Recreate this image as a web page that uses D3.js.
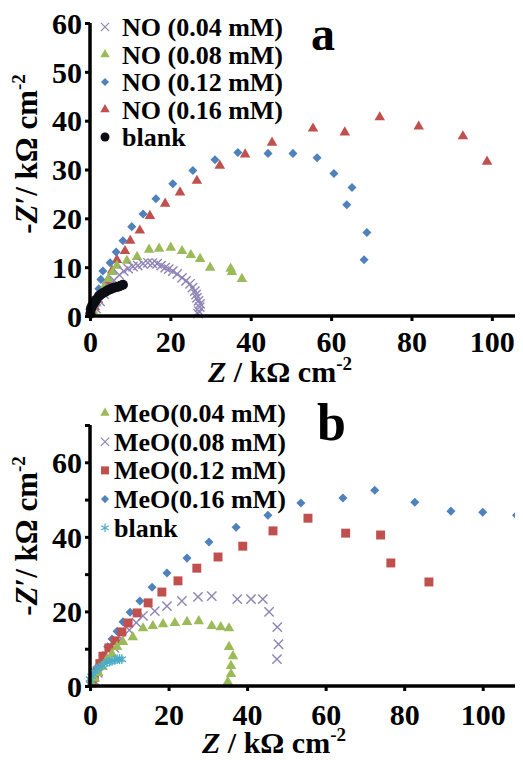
<!DOCTYPE html>
<meta charset="utf-8">
<script src="https://cdn.jsdelivr.net/npm/d3@7"></script>
<div id="chart"></div>
<script>

// ---- panel a : NO ----
const labelsA = ["NO (0.04 mM)", "NO (0.08 mM)", "NO (0.12 mM)", "NO (0.16 mM)", "blank"]
const no004 = [[1.5,1.5],[2.5,3],[3.5,4.5],[4.8,6],[6,7.3],[7.3,8.4],[8.4,9.2],[9.5,9.7],[10.7,10.1],[11.9,10.3],
  [13.2,10.7],[14.4,10.9],[15.5,10.8],[16.7,10.7],[17.7,10.3],[18.7,9.9],[19.6,9.6],[20.6,9.2],[21.7,8.6],[22.9,7.8],
  [23.9,7.2],[24.9,6.6],[25.5,5.8],[26.1,5.1],[26.4,4.4],[26.6,3.7],[27.0,3.1],[27.4,2.5],[27.3,1.8],[27.1,1.0],[26.9,0.5]]
const no008 = [[0.8,1],[1.6,2.6],[2.6,4.3],[3.6,6],[4.6,7.6],[5.6,9],[6.7,10.3],[9.2,11.3],[11.7,12.1],[14.7,13.6],
  [17.2,13.8],[20.1,14.0],[22.9,13.3],[25.1,12.5],[27.4,11.7],[29.9,9.9],[35.0,9.7],[35.3,9.0],[37.8,7.6]]
const no012 = [[0.4,0.6],[0.9,2],[1.5,3.6],[2.2,5.6],[2.7,7.5],[3.2,9.2],[5.0,10.9],[6.5,13.1],[8.2,15.4],[10.4,18.3],
  [13.2,20.9],[16.4,24.0],[20.6,27.1],[25.6,29.8],[31.1,32.0],[36.8,33.5],[44.3,33.3],[50.5,33.3],[56.5,32.4],
  [60.7,29.2],[65.2,26.3],[63.9,22.8],[68.9,17.1],[68.2,11.5]]
const no016 = [[0.5,0.5],[1.2,1.8],[2,3.3],[3,5],[4.2,7],[5.5,9.3],[6.7,11.5],[8.7,13.3],[10.0,15.4],[12.4,17.5],
  [14.9,20.5],[18.7,23.0],[22.4,25.3],[26.6,27.7],[32.3,30.8],[38.6,33.1],[45.3,35.5],[55.5,38.4],[63.4,37.6],
  [72.1,40.7],[81.8,38.8],[92.8,36.8],[98.8,31.6]]
const blankA = [[0.1,0.5],[0.2,1.4],[0.4,1.9],[0.7,2.3],[1.1,2.8],[1.5,3.3],[2.2,4.1],[2.7,4.4],[3.2,4.7],[3.9,5.0],
  [4.5,5.3],[5.1,5.5],[5.7,5.7],[6.4,5.9],[7.0,6.0],[7.6,6.2],[8.2,6.4]]

// ---- panel b : MeO ----
const labelsB = ["MeO(0.04 mM)", "MeO(0.08 mM)", "MeO(0.12 mM)", "MeO(0.16 mM)", "blank"]
const meo004 = [[0.5,0.6],[1.2,2],[2.1,3.5],[3.1,5.2],[4.2,6.9],[5.6,8.6],[6.9,10.5],[8.4,11.8],[10.9,13.1],[13.5,15.5],
  [16.0,16.1],[18.6,16.6],[21.6,16.9],[24.7,17.2],[27.7,17.4],[31.0,16.1],[33.3,15.8],[35.4,15.5],[35.4,10.5],
  [36.4,8.0],[35.9,5.4],[35.9,3.2],[35.1,1.1]]
const meo008 = [[1,1.5],[2,3.5],[3.2,5.6],[4.6,7.8],[6.2,10.2],[8,12.7],[10,15],[11.8,17],[13.5,18.8],[16.5,20.1],
  [19.6,21.4],[23.4,22.8],[27.5,23.9],[31.0,24.1],[37.5,23.3],[41.0,23.3],[44.0,23.3],[45.6,19.9],[47.7,15.8],
  [48.0,11.2],[47.6,7.2]]
const meo012 = [[0.5,0.8],[1.1,2.3],[1.8,4],[2.5,6],[3.3,8.0],[4.8,10.2],[6.4,12.1],[8.1,14.5],[9.7,16.9],[12.0,19.6],
  [14.8,22.3],[18.3,25.2],[22.4,28.2],[27.2,31.6],[32.6,34.6],[38.9,37.5],[46.6,41.6],[55.5,45.0],[65.1,41.0],
  [74.0,40.5],[76.6,33.0],[86.3,27.9]]
const meo016 = [[0.5,1],[1.2,3],[2.2,5.5],[3.3,8.2],[4.5,10.5],[5.6,12.6],[6.9,14.7],[8.4,17.2],[10.2,19.8],[12.7,22.8],
  [15.8,26.5],[19.6,30.3],[24.7,34.3],[30.3,38.6],[37.2,42.6],[45.3,45.8],[53.7,49.1],[64.4,50.4],[72.5,52.5],
  [82.7,49.3],[91.9,46.9],[100.0,46.6],[108.6,45.8]]
const blankB = [[0,0.5],[0,1.9],[0.4,2.6],[0.8,3.2],[1.3,4.0],[1.8,4.6],[2.4,5.0],[3.1,5.4],[3.7,6.0],[4.3,6.4],
  [5.0,6.5],[5.6,6.7],[6.3,7.0],[6.9,7.2],[7.5,7.2],[8.1,7.2]]

const xTicks = [0, 20, 40, 60, 80, 100]
const yTicksA = [0, 10, 20, 30, 40, 50, 60]
const yTicksB = [0, 10, 20, 30, 40, 50, 60, 70]
const yLabelsB = [0, 20, 40, 60]

// marker styles
const purple = "#8f84b6", green = "#9bbb59", blue = "#4f81bd", red = "#c0504d", cyan = "#4bacc6"
const mk = {
  x: { type: d3.symbolX, size: 58, fill: "none", stroke: purple },
  tri: (c) => ({ type: d3.symbolTriangle, size: 48, fill: c, stroke: "none" }),
  dia: { type: d3.symbolDiamond2, size: 52, fill: blue, stroke: "none" },
  sq: { type: d3.symbolSquare, size: 80, fill: red, stroke: "none" },
  dot: { type: d3.symbolCircle, size: 80, fill: "#0d0d14", stroke: "none" },
  ast: { type: d3.symbolAsterisk, size: 64, fill: "none", stroke: cyan }
}

// one family name only
const serif = "Liberation Serif"

// same svg setup as the run that came out in serif; body keeps its 8px margin,
// so the drawing is pulled back by 8px inside the svg
const svg = d3.select("#chart")
  .append("svg")
  .attr("width", 523)
  .attr("height", 760)
  .attr("font-family", serif)
  .attr("font-weight", "bold")
  .append("g")
  .attr("transform", "translate(-8,-8)")

function drawPanel(p) {
  const x = d3.scaleLinear().domain(p.xDomain).range(p.xRange)
  const y = d3.scaleLinear().domain(p.yDomain).range(p.yRange)
  const g = svg.append("g")

  // points (drawn back to front)
  p.series.forEach(s => {
    g.append("g").selectAll("path")
      .data(s.data)
      .join("path")
      .attr("transform", d => `translate(${x(d[0])},${y(d[1])})`)
      .attr("d", d3.symbol().type(s.m.type).size(s.m.size))
      .attr("fill", s.m.fill)
      .attr("stroke", s.m.stroke)
      .attr("stroke-width", 1.4)
  })

  // axes
  const yAxis = g.append("g")
    .attr("transform", `translate(${p.xRange[0]},0)`)
    .call(d3.axisLeft(y).tickValues(p.yTicks).tickSize(5).tickPadding(3)
      .tickFormat(d => p.yLabels.includes(d) ? d : ""))
  const xAxis = g.append("g")
    .attr("transform", `translate(0,${p.yRange[0]})`)
    .call(d3.axisBottom(x).tickValues(xTicks).tickSize(5))
  ;[xAxis, yAxis].forEach(a => {
    a.attr("font-family", serif).attr("font-size", 30).attr("font-weight", "bold")
    a.select(".domain").remove()
    a.selectAll(".tick line").attr("stroke", "#000").attr("stroke-width", 3)
    a.selectAll("text").attr("fill", "#000")
  })
  yAxis.selectAll("text").attr("dy", "0.34em")
  xAxis.selectAll("text").attr("dy", null).attr("y", p.xLabelOffset)

  g.append("line")
    .attr("x1", p.xRange[0]).attr("x2", p.xRange[0])
    .attr("y1", p.yRange[0] + 1.5).attr("y2", p.yRange[1])
    .attr("stroke", "#000").attr("stroke-width", 3.5)
  g.append("line")
    .attr("x1", p.xRange[0]).attr("x2", p.xRange[1])
    .attr("y1", p.yRange[0]).attr("y2", p.yRange[0])
    .attr("stroke", "#000").attr("stroke-width", 3.5)

  // axis titles
  const xt = g.append("text")
    .attr("x", p.xTitle[0]).attr("y", p.xTitle[1])
    .attr("font-size", 30)
  xt.append("tspan").attr("font-style", "italic").text("Z")
  xt.append("tspan").text(" / kΩ cm")
  xt.append("tspan").attr("dy", -12).attr("font-size", 19).text("-2")

  const yt = g.append("text")
    .attr("transform", `translate(${p.yTitle[0]},${p.yTitle[1]}) rotate(-90)`)
    .attr("text-anchor", "middle")
    .attr("font-size", 31)
  yt.append("tspan").text("-")
  yt.append("tspan").attr("font-style", "italic").text("Z")
  yt.append("tspan").text("′/ kΩ cm")
  yt.append("tspan").attr("dy", -12).attr("font-size", 19).text("-2")

  // legend
  const lg = g.append("g")
  p.legend.forEach((s, i) => {
    const cy = p.legendY + i * p.legendStep
    lg.append("path")
      .attr("transform", `translate(${p.legendX},${cy})`)
      .attr("d", d3.symbol().type(s.m.type).size(s.m.size * 0.8))
      .attr("fill", s.m.fill)
      .attr("stroke", s.m.stroke)
      .attr("stroke-width", 1.2)
    lg.append("text")
      .attr("x", p.legendTextX).attr("y", cy + 9)
      .attr("font-size", p.legendFont)
      .text(p.labels[i])
  })

  g.append("text")
    .attr("x", p.letter[0]).attr("y", p.letter[1])
    .attr("font-size", p.letter[3])
    .text(p.letter[2])
}

const sA = {
  no004: { data: no004, m: mk.x }, no008: { data: no008, m: mk.tri(green) },
  no012: { data: no012, m: mk.dia }, no016: { data: no016, m: mk.tri(red) },
  blank: { data: blankA, m: mk.dot }
}
drawPanel({
  xDomain: [0, 108], xRange: [90, 524],
  yDomain: [0, 60], yRange: [316, 23],
  yTicks: yTicksA, yLabels: yTicksA,
  series: [sA.no016, sA.no012, sA.no008, sA.no004, sA.blank],
  legend: [sA.no004, sA.no008, sA.no012, sA.no016, sA.blank],
  labels: labelsA,
  legendX: 105, legendTextX: 122, legendY: 27, legendStep: 27.5, legendFont: 26,
  xLabelOffset: 36, xTitle: [208, 382], yTitle: [37, 154],
  letter: [311, 50, "a", 48]
})

const sB = {
  meo004: { data: meo004, m: mk.tri(green) }, meo008: { data: meo008, m: mk.x },
  meo012: { data: meo012, m: mk.sq }, meo016: { data: meo016, m: mk.dia },
  blank: { data: blankB, m: mk.ast }
}
drawPanel({
  xDomain: [0, 110], xRange: [90, 522],
  yDomain: [0, 70], yRange: [686, 425],
  yTicks: yTicksB, yLabels: yLabelsB,
  series: [sB.meo008, sB.meo016, sB.meo012, sB.meo004, sB.blank],
  legend: [sB.meo004, sB.meo008, sB.meo012, sB.meo016, sB.blank],
  labels: labelsB,
  legendX: 105, legendTextX: 114, legendY: 413, legendStep: 28.7, legendFont: 26,
  xLabelOffset: 39, xTitle: [202, 753], yTitle: [37, 536],
  letter: [317, 440, "b", 52]
})

</script>
